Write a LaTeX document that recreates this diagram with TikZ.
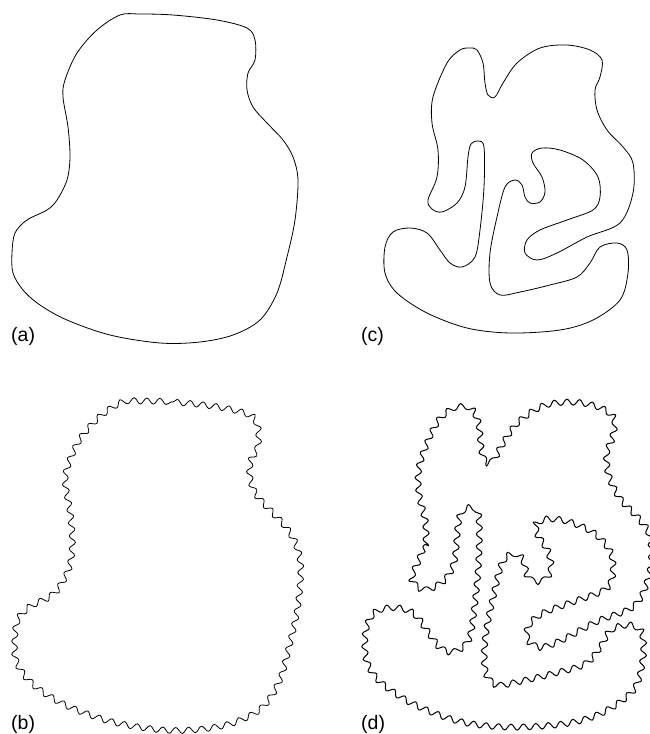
\documentclass[tikz,border=0pt]{standalone}
\usepackage{fontspec}
\setmainfont{Liberation Sans}
\usetikzlibrary{decorations.pathmorphing}

\newcommand{\blobA}{plot[smooth cycle, tension=0.55] coordinates {
    (140,14) (173,15) (217,20) (247,28) (255,40) (255,60) (248,73) (247,90)
    (253,107) (267,123) (283,140) (293,157) (298,180) (295,220) (287,257)
    (277,293) (260,320) (233,335) (200,342) (160,343) (110,335) (67,320)
    (40,305) (23,290) (13,273) (12,253) (15,233) (27,220) (47,210) (57,200)
    (67,180) (70,157) (68,127) (63,97) (65,80) (77,53) (97,30) (120,15)}}

\newcommand{\blobC}{plot[smooth cycle, tension=0.55] coordinates {
    (438,150) (437,177) (428,200)
    (432,209) (442,212) (457,203) (465,187) (468,157) (471,144) (478,141)
    (484,147) (484,187) (480,230) (475,257) (462,267) (450,263) (440,250)
    (427,233) (410,228) (393,232) (385,247) (385,273) (397,293) (427,313)
    (467,328) (510,333) (560,330) (593,320) (620,300) (628,273) (627,250)
    (617,243) (600,247) (590,263) (577,277) (550,285) (520,292) (500,295)
    (490,283) (490,253) (497,217) (505,187) (515,180) (522,185) (525,197)
    (530,203) (540,202) (545,192) (542,177) (533,163) (532,153) (542,148)
    (560,150) (583,160) (598,177) (600,197) (593,210) (567,220) (540,230)
    (527,240) (525,253) (537,260) (557,253) (587,237) (620,223) (633,193)
    (633,163) (623,147) (607,130) (597,110) (595,90) (600,77) (602,60)
    (590,50) (567,45) (540,48) (517,63) (503,83) (495,97) (488,95) (485,83)
    (483,63) (477,50) (470,48) (460,50) (447,63) (433,97) (432,123)}}

\begin{document}
\begin{tikzpicture}[
    x=1pt, y=-1pt,
    outline/.style={line width=0.8pt, line join=round},
    wavy/.style={outline, decorate, decoration={snake, amplitude=3pt, segment length=13pt}},
    wavier/.style={outline, line width=1pt, decorate, decoration={snake, amplitude=3pt, segment length=12.5pt}},
    tag/.style={inner sep=0pt, anchor=base west, font=\fontsize{19.5}{22}\selectfont}
]
    \useasboundingbox (0,0) rectangle (649,734);

    % Smooth outlines
    \draw[outline] \blobA;
    \draw[outline] \blobC;

    % Rough outlines
    \begin{scope}[shift={(0,387)}]
        \draw[wavy] \blobA;
    \end{scope}
    \begin{scope}[shift={(505,561)}, scale=1.14, shift={(-509,-189)}]
        \draw[wavier] \blobC;
    \end{scope}

    % Labels
    \node[tag] (tagA) at (11,341) {(a)};
    \node[tag] (tagC) at (361,341) {(c)};
    \node[tag] (tagB) at (11,729) {(b)};
    \node[tag] (tagD) at (361,729) {(d)};
\end{tikzpicture}
\end{document}
